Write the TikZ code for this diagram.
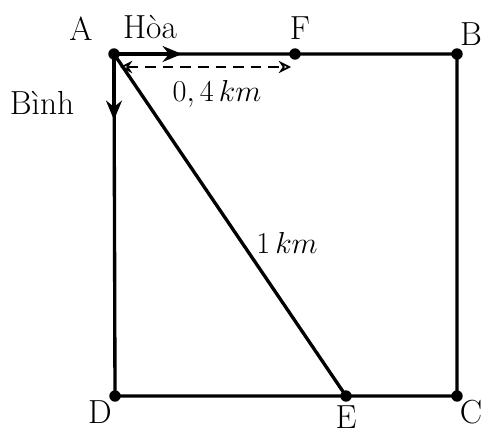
\documentclass[tikz,border=0pt]{standalone}
\usepackage{tikz}
\usetikzlibrary{arrows.meta,calc,positioning}
\newcommand{\lblfont}{\fontsize{19}{23}\selectfont}
\tikzset{
  pt/.style={circle, fill=black, inner sep=0pt, minimum size=6.5pt},
  lbl/.style={font=\lblfont, inner sep=1pt},
  edge/.style={line width=1.9pt},
  walk/.style={-{Stealth[length=11pt,width=9pt]}, line width=2.4pt},
  dist/.style={{Stealth[length=7pt,width=7pt,open]}-{Stealth[length=7pt,width=7pt,open]}, line width=1pt, dash pattern=on 6pt off 4pt},
}
\begin{document}
\begin{tikzpicture}[x=0.02cm, y=-0.02cm]
  \useasboundingbox (0,0) rectangle (496,436);
  % --- corners and points ---
  \node[pt] (A) at (114,54) {};
  \node[pt] (B) at (457,54) {};
  \node[pt] (C) at (457,396) {};
  \node[pt] (D) at (115,396) {};
  \node[pt] (F) at (295,54) {};
  \node[pt] (E) at (346,396) {};
  \coordinate (hoa) at (182,54);
  \coordinate (binh) at (114,120);
  \coordinate (d1) at (120,67);
  \coordinate (d2) at (291,67);
  % --- square and path ---
  \draw[edge] (A.center) -- (B.center) -- (C.center) -- (D.center) -- cycle;
  \draw[edge] (A.center) -- (E.center);
  \draw[walk] (A.center) -- (hoa);
  \draw[walk] (A.center) -- (binh);
  \draw[dist] (d1) -- (d2);
  % --- labels ---
  \node[lbl] at (81,29) {A};
  \node[lbl] at (150,27) {Hòa};
  \node[lbl] at (300,28) {F};
  \node[lbl] at (471,34) {B};
  \node[lbl] at (42,103) {Bình};
  \node[lbl] at (217,94) {$0,4\,km$};
  \node[lbl] at (287,243) {$1\,km$};
  \node[lbl] at (100,412) {D};
  \node[lbl] at (346,417) {E};
  \node[lbl] at (471,412) {C};
\end{tikzpicture}
\end{document}
